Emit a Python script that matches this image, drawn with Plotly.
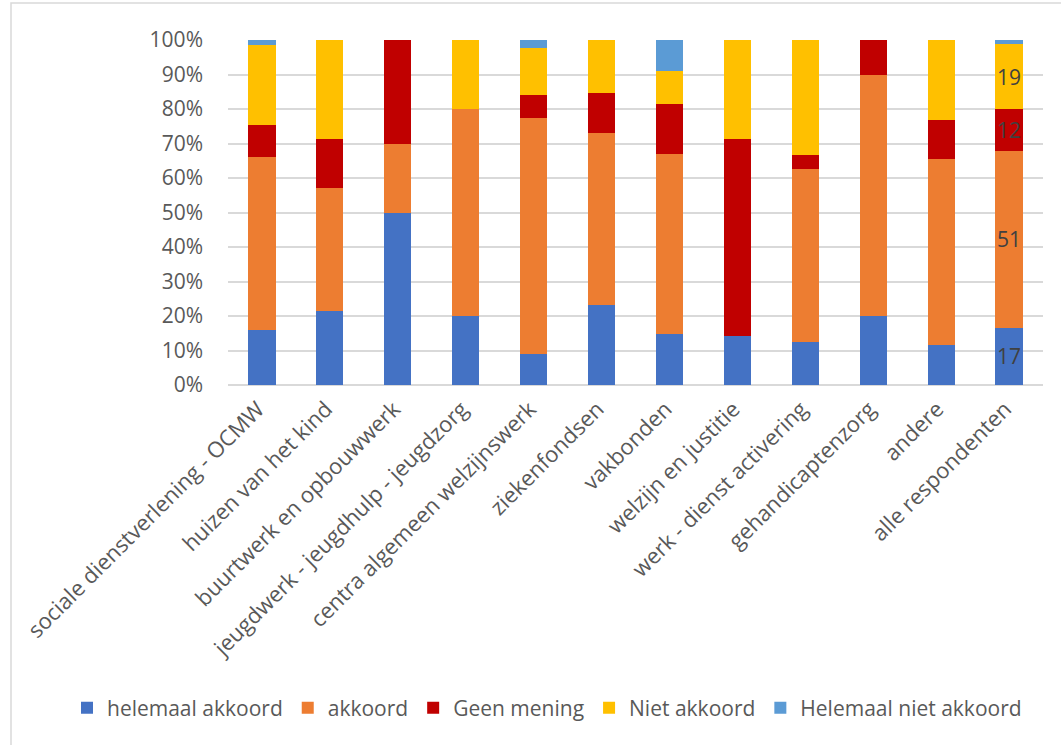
import plotly.graph_objects as go

categories = [
    "sociale dienstverlening - OCMW",
    "huizen van het kind",
    "buurtwerk en opbouwwerk",
    "jeugdwerk - jeugdhulp - jeugdzorg",
    "centra algemeen welzijnswerk",
    "ziekenfondsen",
    "vakbonden",
    "welzijn en justitie",
    "werk - dienst activering",
    "gehandicaptenzorg",
    "andere",
    "alle respondenten",
]

helemaal_akkoord = [15.9, 21.4, 50.0, 20.0, 9.1, 23.1, 14.7, 14.3, 12.5, 20.0, 11.5, 16.6]
akkoord = [50.3, 35.7, 20.0, 60.0, 68.2, 50.0, 52.2, 0.0, 50.0, 70.0, 53.9, 51.2]
geen_mening = [9.1, 14.3, 30.0, 0.0, 6.8, 11.5, 14.5, 57.1, 4.2, 10.0, 11.5, 12.3]
niet_akkoord = [23.2, 28.6, 0.0, 20.0, 13.6, 15.4, 9.7, 28.6, 33.3, 0.0, 23.1, 18.6]
helemaal_niet_akkoord = [1.5, 0.0, 0.0, 0.0, 2.3, 0.0, 8.9, 0.0, 0.0, 0.0, 0.0, 1.3]

series_names = ["helemaal akkoord", "akkoord", "Geen mening", "Niet akkoord", "Helemaal niet akkoord"]
series_values = [helemaal_akkoord, akkoord, geen_mening, niet_akkoord, helemaal_niet_akkoord]
series_colors = ["#4472C4", "#ED7D31", "#C00000", "#FFC000", "#5B9BD5"]
labelled_series = [True, True, True, True, False]

y_ticks = [0, 10, 20, 30, 40, 50, 60, 70, 80, 90, 100]
y_tick_labels = ["0%", "10%", "20%", "30%", "40%", "50%", "60%", "70%", "80%", "90%", "100%"]

FONT = "Open Sans"
GRAY = "#595959"

fig = go.Figure()
for name, vals, col, lab in zip(series_names, series_values, series_colors, labelled_series):
    text = [(f"{v:.0f}" if (lab and i == len(vals) - 1) else "") for i, v in enumerate(vals)]
    fig.add_trace(go.Bar(
        x=categories, y=vals, name=name,
        marker=dict(color=col, line=dict(width=0)),
        text=text, textposition="inside", insidetextanchor="middle",
        constraintext="none",
        textfont=dict(family=FONT, size=21, color="#404040"),
        hoverinfo="skip",
    ))

W, H = 1061, 745
L, R, T, B = 228, 18, 40, 360
pw, ph = W - L - R, H - T - B

fig.update_layout(
    width=W, height=H,
    barmode="stack", bargap=0.6,
    margin=dict(l=L, r=R, t=T, b=B, autoexpand=False),
    paper_bgcolor="white", plot_bgcolor="white",
    font=dict(family=FONT, size=20, color=GRAY),
    xaxis=dict(
        tickangle=-45, tickfont=dict(family=FONT, size=22, color=GRAY),
        showgrid=False, showline=False, ticks="", automargin=False,
        ticklabelshift=-4, ticklabelstandoff=6,
    ),
    yaxis=dict(
        range=[0, 100], tickmode="array", tickvals=y_ticks, ticktext=y_tick_labels,
        tickfont=dict(family=FONT, size=21, color=GRAY),
        showgrid=True, gridcolor="#D9D9D9", gridwidth=1.5,
        zeroline=True, zerolinecolor="#D9D9D9", zerolinewidth=1.5,
        showline=False, ticks="", ticklabelstandoff=24, automargin=False,
    ),
    legend=dict(
        orientation="h", xref="paper", yref="paper",
        x=(67 - L) / pw, xanchor="left", y=(T + ph - 708) / ph, yanchor="middle",
        font=dict(family=FONT, size=21, color=GRAY),
        traceorder="normal", itemclick=False, itemwidth=30,
    ),
    showlegend=True,
    shapes=[dict(
        type="rect", xref="paper", yref="paper", layer="below",
        x0=(11 - L) / pw, x1=(W + 10 - L) / pw,
        y0=(T + ph - (H + 10)) / ph, y1=(T + ph - 3) / ph,
        line=dict(color="#D9D9D9", width=1.5), fillcolor="rgba(0,0,0,0)",
    )],
)

fig.write_html("out.html")
